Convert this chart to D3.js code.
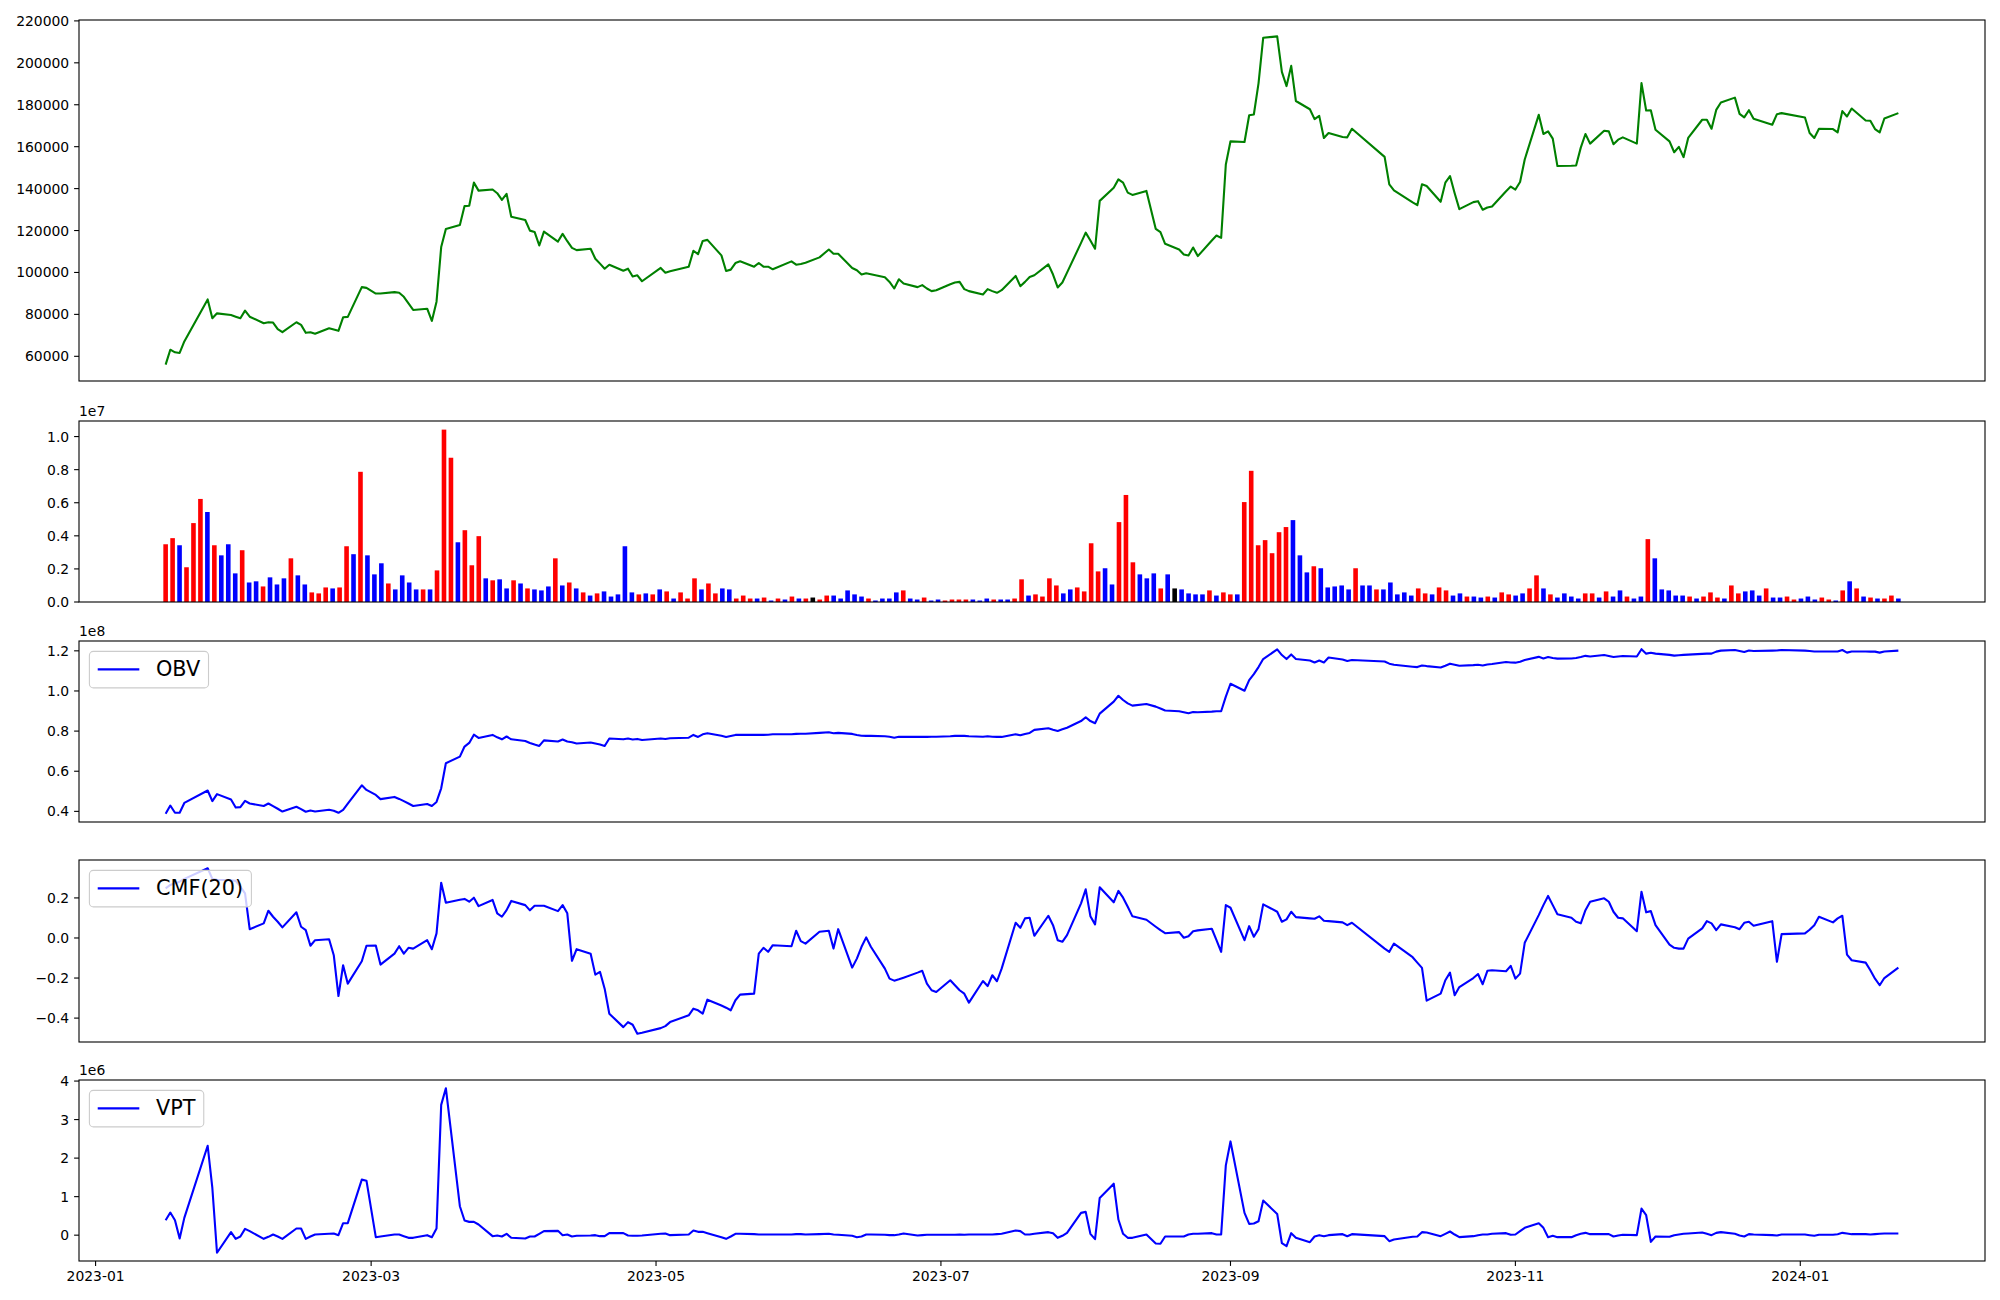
<!DOCTYPE html>
<html><head><meta charset="utf-8">
<script src="https://cdn.jsdelivr.net/npm/d3@7"></script>
<style>
body{margin:0;background:#fff}
svg{display:block}
text{font-family:"DejaVu Sans",sans-serif;fill:#000}
</style>
</head><body>
<svg id="chart" width="2000" height="1300"></svg>
<script>
// ---------------- DATA ----------------
const tradingDays = {
  "2023-01": [16,17,18,19,20,25,26,27,30,31],
  "2023-02": [1,2,3,6,7,8,9,10,13,14,15,16,17,20,21,22,23,24,27,28],
  "2023-03": [2,3,6,7,8,9,10,13,14,15,16,17,20,21,22,23,24,27,28,29,30,31],
  "2023-04": [3,4,5,6,7,10,11,12,13,14,17,18,19,20,21,24,25,26,27,28],
  "2023-05": [2,3,4,8,9,10,11,12,15,16,17,18,19,22,23,24,25,26,30,31],
  "2023-06": [1,2,5,7,8,9,12,13,14,15,16,19,20,21,22,23,26,27,28,29,30],
  "2023-07": [3,4,5,6,7,10,11,12,13,14,17,18,19,20,21,24,25,26,27,28,31],
  "2023-08": [1,2,3,4,7,8,9,10,11,14,16,17,18,21,22,23,24,25,28,29,30,31],
  "2023-09": [1,4,5,6,7,8,11,12,13,14,15,18,19,20,21,22,25,26,27],
  "2023-10": [4,5,6,10,11,12,13,16,17,18,19,20,23,24,25,26,27,30,31],
  "2023-11": [1,2,3,6,7,8,9,10,13,14,15,16,17,20,21,22,23,24,27,28,29,30],
  "2023-12": [1,4,5,6,7,8,11,12,13,14,15,18,19,20,21,22,26,27,28],
  "2024-01": [2,3,4,5,8,9,10,11,12,15,16,17,18,19,22]
};

const closePrice = [
  56050,63150,61900,61600,67100,87150,78150,80500,79700,78900,
  78150,81800,78900,75800,76250,76100,72950,71500,76250,75000,71200,71500,70750,73400,72800,72150,78600,78800,93000,92650,
  89950,89950,90600,90300,88400,85250,82100,82700,76900,86050,112100,120750,122650,131650,131800,142850,139050,139550,137800,134650,137500,126600,
  125000,119950,119350,112850,119500,114750,118400,114900,111750,110650,111300,106550,104200,101800,103700,100850,101800,98050,98650,95800,
  102150,99900,100550,102750,110350,108750,115050,115550,108150,100700,101350,104500,105300,102750,104500,102750,102750,101500,105300,103700,
  104000,104650,107200,110950,108900,108900,102150,101050,99000,99600,99150,97700,95500,92350,96750,94700,93000,93950,92350,91100,91550,
  94400,95200,95500,92050,91100,89500,92050,91100,90300,91550,98350,93450,95500,97850,98650,103850,99000,92850,95200,99900,114100,
  119000,115250,111300,134150,140450,144400,142850,138100,137000,138900,120750,119200,113650,110950,108600,108100,111900,107800,115250,117600,116500,151500,
  162550,162250,175000,175350,190200,211950,212600,195700,188900,198550,181800,177850,173150,174700,164150,166500,164600,164450,168550,
  155150,142050,139200,133400,132100,142050,141250,133700,142850,146000,137800,130200,133550,134000,129900,131000,131500,138750,140950,
  139550,143150,153900,175200,166050,167300,163850,150750,150900,151050,159550,166050,161450,167600,167300,161150,163350,164450,161450,190350,177250,177400,
  168100,162550,157350,159900,155000,164150,172850,172850,168550,177550,181050,183400,175650,173950,177400,173300,170450,175500,176000,
  173950,166500,164150,168550,168400,166850,176950,174400,178200,172500,172350,168400,166850,173450,176000
];

// volume in millions of shares
const volumeM = [
  3.49,3.86,3.43,2.10,4.77,6.23,5.44,3.43,2.82,3.49,
  1.73,3.13,1.18,1.25,0.94,1.49,1.06,1.43,2.64,1.61,
  1.06,0.58,0.52,0.88,0.82,0.88,3.37,2.89,7.87,2.82,
  1.67,2.34,1.12,0.76,1.61,1.18,0.76,0.76,0.76,1.91,
  10.42,8.72,3.61,4.34,2.22,3.98,1.43,1.31,1.37,0.82,
  1.31,1.12,0.82,0.76,0.70,0.94,2.64,1.00,1.18,0.82,
  0.58,0.39,0.52,0.64,0.33,0.46,3.37,0.58,0.46,0.52,
  0.46,0.76,0.64,0.21,0.58,0.21,1.43,0.76,1.12,0.52,
  0.82,0.76,0.21,0.39,0.21,0.21,0.27,0.09,0.21,0.15,
  0.33,0.21,0.21,0.27,0.15,0.39,0.39,0.21,0.70,0.46,
  0.33,0.21,0.09,0.21,0.21,0.58,0.70,0.21,0.15,0.27,
  0.09,0.15,0.09,0.15,0.15,0.15,0.15,0.09,0.21,0.15,
  0.15,0.15,0.21,1.37,0.39,0.46,0.33,1.43,1.00,0.52,
  0.76,0.88,0.64,3.55,1.85,2.04,1.06,4.83,6.47,2.40,
  1.67,1.43,1.73,0.82,1.67,0.82,0.76,0.52,0.46,0.46,
  0.70,0.39,0.58,0.46,0.46,6.04,7.93,3.43,3.74,2.95,
  4.22,4.53,4.95,2.82,1.79,2.16,2.04,0.88,0.94,1.00,
  0.76,2.04,1.00,1.00,0.76,0.76,1.18,0.46,0.58,0.39,
  0.82,0.52,0.46,0.88,0.70,0.39,0.52,0.33,0.33,0.27,
  0.33,0.27,0.58,0.46,0.39,0.52,0.82,1.61,0.82,0.46,
  0.27,0.52,0.33,0.21,0.52,0.52,0.27,0.64,0.33,0.70,
  0.33,0.21,0.33,3.80,2.64,0.76,0.70,0.39,0.39,0.33,
  0.21,0.33,0.58,0.27,0.21,1.00,0.52,0.64,0.70,0.39,
  0.82,0.27,0.27,0.33,0.15,0.21,0.33,0.15,0.27,0.15,
  0.09,0.70,1.25,0.82,0.33,0.27,0.21,0.21,0.39,0.21
];

// R = up day, B = down day, K = unchanged
const direction =
  "RRBRRRBRBB"+"BRBBRBBBRB"+"BRRRBRRBRB"+"BBRBBBBRBR"+"RRBRRRBRBB"+
  "RBRBBBRBRB"+"RBRBBBBBRB"+"RBRBRRRBRR"+"BBRRRBRBRB"+"RBRKRRBBBB"+
  "BRBBBBRBBR"+"BBRRRRBBBR"+"BBRRBRRRRB"+"BRRRRBBRRR"+"BBBRBKBBBB"+
  "RBRRBRRRRR"+"RRBBBRBBBB"+"BRBBRBBBBB"+"RRBRRBBRBB"+"RBRRBBRRBR"+
  "BBBBRRBRBB"+"RBBRBBBBBR"+"BRRRBRRBBB"+"RBBRRBBBRR"+"BRBRBRBRRB";

// OBV, in units of 1e8
const obv = [
  0.388,0.429,0.393,0.393,0.442,0.504,0.451,0.486,0.459,0.419,
  0.421,0.452,0.439,0.427,0.439,0.426,0.413,0.399,0.423,0.411,0.398,0.404,0.399,0.408,0.403,0.393,0.408,0.439,0.530,0.507,
  0.482,0.461,0.472,0.462,0.451,0.439,0.427,0.437,0.427,0.447,0.515,0.640,0.673,0.723,0.741,0.782,0.766,0.781,0.769,0.759,0.773,0.759,
  0.751,0.741,0.733,0.726,0.754,0.748,0.758,0.748,0.744,0.738,0.743,0.738,0.733,0.726,0.763,0.759,0.763,0.758,0.761,0.756,
  0.763,0.761,0.764,0.767,0.781,0.771,0.784,0.789,0.777,0.771,0.776,0.781,0.781,0.781,0.782,0.781,0.782,0.784,0.784,0.786,
  0.787,0.787,0.791,0.794,0.789,0.791,0.786,0.781,0.777,0.776,0.776,0.774,0.772,0.767,0.772,0.771,0.771,0.772,0.771,0.772,0.772,
  0.774,0.776,0.777,0.776,0.774,0.772,0.774,0.772,0.771,0.771,0.784,0.779,0.786,0.791,0.806,0.814,0.807,0.801,0.809,0.817,0.850,
  0.869,0.850,0.839,0.887,0.947,0.976,0.955,0.938,0.927,0.935,0.922,0.913,0.903,0.899,0.894,0.889,0.895,0.894,0.897,0.899,0.899,0.972,
  1.036,1.001,1.054,1.084,1.119,1.159,1.207,1.179,1.159,1.182,1.159,1.152,1.142,1.152,1.142,1.167,1.157,1.149,1.154,
  1.147,1.136,1.131,1.121,1.119,1.127,1.124,1.117,1.126,1.136,1.131,1.126,1.129,1.131,1.127,1.132,1.134,1.144,1.142,
  1.141,1.146,1.154,1.170,1.162,1.169,1.164,1.161,1.162,1.164,1.169,1.175,1.172,1.179,1.174,1.169,1.172,1.174,1.172,1.208,1.186,1.190,
  1.186,1.180,1.176,1.178,1.180,1.181,1.185,1.186,1.186,1.196,1.201,1.204,1.199,1.194,1.202,1.199,1.201,1.202,1.204,
  1.201,1.199,1.197,1.197,1.197,1.197,1.204,1.191,1.197,1.197,1.196,1.196,1.191,1.197,1.201
];

// Chaikin Money Flow (20)
const cmf = [
  0.248,0.265,0.273,0.281,0.295,0.348,0.295,0.291,0.288,0.285,
  0.256,0.223,0.044,0.073,0.136,0.106,0.081,0.053,0.128,0.056,0.039,-0.039,-0.011,-0.006,-0.086,-0.290,-0.136,-0.228,-0.116,-0.039,
  -0.038,-0.133,-0.078,-0.041,-0.078,-0.049,-0.053,-0.011,-0.056,0.023,0.276,0.176,0.191,0.195,0.181,0.201,0.159,0.190,0.123,0.106,0.139,0.185,
  0.164,0.138,0.161,0.161,0.161,0.134,0.164,0.123,-0.114,-0.056,-0.079,-0.183,-0.169,-0.253,-0.378,-0.445,-0.420,-0.433,-0.478,-0.473,
  -0.450,-0.440,-0.420,-0.386,-0.353,-0.361,-0.378,-0.308,-0.337,-0.348,-0.361,-0.311,-0.283,-0.278,-0.078,-0.049,-0.069,-0.036,-0.041,0.036,
  -0.016,-0.028,0.031,0.036,-0.053,0.044,-0.148,-0.103,-0.044,0.003,-0.044,-0.153,-0.203,-0.213,-0.206,-0.198,-0.173,-0.164,-0.228,-0.261,-0.270,
  -0.211,-0.236,-0.261,-0.278,-0.323,-0.215,-0.240,-0.186,-0.216,-0.153,0.076,0.051,0.098,0.101,0.011,0.111,0.064,-0.011,-0.019,0.014,0.173,
  0.243,0.109,0.068,0.253,0.178,0.235,0.201,0.156,0.108,0.091,0.056,0.039,0.024,0.029,0.001,0.009,0.034,0.038,0.046,-0.011,-0.069,0.164,
  0.151,-0.011,0.059,0.006,0.044,0.168,0.131,0.081,0.093,0.131,0.104,0.098,0.096,0.108,0.086,0.084,0.078,0.064,0.076,
  -0.053,-0.069,-0.028,-0.096,-0.123,-0.149,-0.313,-0.278,-0.211,-0.173,-0.286,-0.245,-0.200,-0.180,-0.231,-0.164,-0.161,-0.166,-0.139,
  -0.203,-0.178,-0.024,0.114,0.164,0.210,0.164,0.118,0.101,0.081,0.073,0.139,0.181,0.198,0.181,0.131,0.101,0.098,0.034,0.231,0.128,0.134,
  0.064,-0.033,-0.049,-0.053,-0.053,-0.003,0.048,0.084,0.073,0.039,0.068,0.054,0.044,0.076,0.081,0.061,0.084,-0.119,0.019,
  0.023,0.041,0.064,0.106,0.078,0.098,0.111,-0.083,-0.111,-0.123,-0.161,-0.203,-0.236,-0.200,-0.148
];

// Volume Price Trend, in units of 1e6
const vpt = [
  0.388,0.587,0.388,-0.086,0.449,2.321,1.225,-0.457,0.078,-0.095,
  -0.035,0.164,0.104,-0.095,-0.043,0.017,-0.035,-0.095,0.173,0.173,-0.095,-0.035,0.017,0.035,0.043,0.000,0.311,0.311,1.441,1.415,
  -0.052,-0.035,0.017,0.017,-0.026,-0.069,-0.069,0.000,-0.052,0.173,3.382,3.814,0.751,0.380,0.345,0.345,0.276,-0.026,-0.009,-0.035,0.035,-0.069,
  -0.086,-0.035,-0.035,0.035,0.104,0.112,0.000,0.017,-0.035,-0.017,-0.009,0.000,-0.026,-0.026,0.052,0.052,-0.009,-0.017,-0.017,-0.009,
  0.035,0.043,0.000,0.017,0.121,0.086,0.086,0.052,-0.052,-0.095,-0.035,0.035,0.035,0.026,0.017,0.017,0.017,0.017,0.017,0.026,
  0.026,0.017,0.026,0.035,0.017,0.009,-0.017,-0.052,-0.035,0.017,0.017,0.009,0.000,0.000,0.017,0.043,-0.009,0.000,0.009,0.009,0.009,
  0.009,0.009,0.017,0.009,0.017,0.017,0.017,0.017,0.026,0.035,0.121,0.104,0.017,0.017,0.035,0.078,0.052,-0.069,-0.017,0.060,0.578,
  0.604,0.035,-0.104,0.966,1.337,0.406,0.035,-0.069,-0.069,0.017,-0.216,-0.224,-0.035,-0.035,-0.035,0.017,0.035,0.035,0.052,0.017,0.017,1.812,
  2.433,0.578,0.293,0.302,0.362,0.897,0.552,-0.207,-0.285,0.052,-0.069,-0.181,-0.035,0.000,-0.026,0.000,0.026,-0.026,0.026,
  -0.026,-0.155,-0.112,-0.043,-0.035,0.078,0.069,-0.026,0.035,0.095,0.017,-0.052,-0.026,0.000,0.017,0.017,0.035,0.052,0.009,
  0.017,0.104,0.190,0.311,0.190,-0.052,-0.017,-0.052,-0.052,0.000,0.035,0.060,0.026,0.026,0.026,-0.035,-0.009,0.009,0.000,0.690,0.518,-0.173,
  -0.035,-0.043,0.000,0.017,0.035,0.043,0.069,0.035,0.000,0.060,0.078,0.035,-0.009,-0.035,0.026,0.017,0.000,-0.009,0.017,
  0.017,0.000,-0.017,0.009,0.009,0.026,0.060,0.043,0.026,0.026,0.017,0.026,0.035,0.043,0.043
];

const priceTicks  = [60000,80000,100000,120000,140000,160000,180000,200000,220000];
const volumeTicks = [0.0,0.2,0.4,0.6,0.8,1.0];   // x 1e7
const obvTicks    = [0.4,0.6,0.8,1.0,1.2];       // x 1e8
const cmfTicks    = [-0.4,-0.2,0.0,0.2];
const vptTicks    = [0,1,2,3,4];                 // x 1e6
const dateTicks   = ["2023-01-01","2023-03-01","2023-05-01","2023-07-01","2023-09-01","2023-11-01","2024-01-01"];
const dateTickLabels = ["2023-01","2023-03","2023-05","2023-07","2023-09","2023-11","2024-01"];

// ---------------- LAYOUT ----------------
const L = 79, R = 1985;
const panels = [
  {top: 20,   bottom: 381},
  {top: 421,  bottom: 602},
  {top: 641,  bottom: 822},
  {top: 860,  bottom: 1042},
  {top: 1080, bottom: 1261}
];
const FONT = 13.9, TICK = 4.9, PAD = 4.9, LEGEND_FONT = 20.8;
const colorOf = {R: "#ff0000", B: "#0000ff", K: "#000000"};

const parse = d3.utcParse("%Y-%m-%d");
const dates = [];
Object.keys(tradingDays).forEach(m => tradingDays[m].forEach(d => dates.push(parse(m + "-" + String(d).padStart(2, "0")))));

const svg = d3.select("#chart");
svg.append("rect").attr("width", 2000).attr("height", 1300).attr("fill", "#fff");

const t0 = dates[0].getTime(), t1 = dates[dates.length - 1].getTime();
const xp = (t1 - t0) * 0.05;
const x = d3.scaleUtc().domain([new Date(t0 - xp), new Date(t1 + xp)]).range([L, R]);
const xi = d3.scaleLinear().domain([0, dates.length - 1]).range([x(dates[0]), x(dates[dates.length - 1])]);

function padded(arr) {
  const [a, b] = d3.extent(arr); const p = (b - a) * 0.05; return [a - p, b + p];
}

function frame(p, y, ticks, fmt, tickVal, offsetLabel, xAxis) {
  const g = svg.append("g");
  ticks.forEach(t => {
    const yy = y(tickVal(t));
    g.append("line").attr("x1", L - TICK).attr("x2", L).attr("y1", yy).attr("y2", yy)
      .attr("stroke", "#000").attr("stroke-width", 1.1);
    g.append("text").attr("x", L - TICK - PAD).attr("y", yy).attr("text-anchor", "end")
      .attr("dominant-baseline", "central").attr("font-size", FONT).text(fmt(t));
  });
  if (xAxis) {
    dateTicks.forEach((s, k) => {
      const xx = x(parse(s));
      g.append("line").attr("x1", xx).attr("x2", xx).attr("y1", p.bottom).attr("y2", p.bottom + TICK)
        .attr("stroke", "#000").attr("stroke-width", 1.1);
      g.append("text").attr("x", xx).attr("y", p.bottom + TICK + PAD).attr("dy", "0.76em")
        .attr("text-anchor", "middle").attr("font-size", FONT).text(dateTickLabels[k]);
    });
  }
  if (offsetLabel) {
    g.append("text").attr("x", L).attr("y", p.top - 5).attr("font-size", FONT).text(offsetLabel);
  }
  g.append("rect").attr("x", L).attr("y", p.top).attr("width", R - L).attr("height", p.bottom - p.top)
    .attr("fill", "none").attr("stroke", "#000").attr("stroke-width", 1.1);
}

function legend(p, label) {
  const g = svg.append("g");
  const bx = L + 10.4, by = p.top + 10.4, pad = 0.4 * LEGEND_FONT, hl = 2 * LEGEND_FONT, hp = 0.8 * LEGEND_FONT;
  const cy = by + 18;
  const box = g.append("rect");
  g.append("line").attr("x1", bx + pad).attr("x2", bx + pad + hl).attr("y1", cy).attr("y2", cy)
    .attr("stroke", "#0000ff").attr("stroke-width", 2.1);
  const t = g.append("text").attr("x", bx + pad + hl + hp).attr("y", cy).attr("dominant-baseline", "central")
    .attr("font-size", LEGEND_FONT).text(label);
  const tw = t.node().getComputedTextLength();
  box.attr("x", bx).attr("y", by).attr("width", pad + hl + hp + tw + pad).attr("height", 36.5)
    .attr("rx", 4).attr("fill", "#fff").attr("fill-opacity", 0.8).attr("stroke", "#cccccc").attr("stroke-width", 1.1);
}

function linePanel(p, values, color, y) {
  const line = d3.line().x((d, i) => x(dates[i])).y(d => y(d));
  svg.append("path").datum(values).attr("d", line).attr("fill", "none").attr("stroke", color)
    .attr("stroke-width", 2.1).attr("stroke-linejoin", "round");
}

// Panel 1: price
{
  const p = panels[0];
  const y = d3.scaleLinear().domain(padded(closePrice)).range([p.bottom, p.top]);
  linePanel(p, closePrice, "#008000", y);
  frame(p, y, priceTicks, d => String(d), d => d, null, false);
}
// Panel 2: volume bars
{
  const p = panels[1];
  const y = d3.scaleLinear().domain([0, d3.max(volumeM) * 1.05]).range([p.bottom, p.top]);
  const bw = 4.6;
  svg.append("g").selectAll("rect").data(volumeM).join("rect")
    .attr("x", (d, i) => xi(i) - bw / 2).attr("width", bw)
    .attr("y", d => y(d)).attr("height", d => y(0) - y(d))
    .attr("fill", (d, i) => colorOf[direction[i]]);
  frame(p, y, volumeTicks, d => d.toFixed(1), d => d * 10, "1e7", false);
}
// Panel 3: OBV
{
  const p = panels[2];
  const y = d3.scaleLinear().domain(padded(obv)).range([p.bottom, p.top]);
  linePanel(p, obv, "#0000ff", y);
  frame(p, y, obvTicks, d => d.toFixed(1), d => d, "1e8", false);
  legend(p, "OBV");
}
// Panel 4: CMF
{
  const p = panels[3];
  const y = d3.scaleLinear().domain(padded(cmf)).range([p.bottom, p.top]);
  linePanel(p, cmf, "#0000ff", y);
  frame(p, y, cmfTicks, d => d.toFixed(1).replace("-", "\u2212"), d => d, null, false);
  legend(p, "CMF(20)");
}
// Panel 5: VPT
{
  const p = panels[4];
  const y = d3.scaleLinear().domain(padded(vpt)).range([p.bottom, p.top]);
  linePanel(p, vpt, "#0000ff", y);
  frame(p, y, vptTicks, d => String(d), d => d, "1e6", true);
  legend(p, "VPT");
}
</script>
</body></html>
